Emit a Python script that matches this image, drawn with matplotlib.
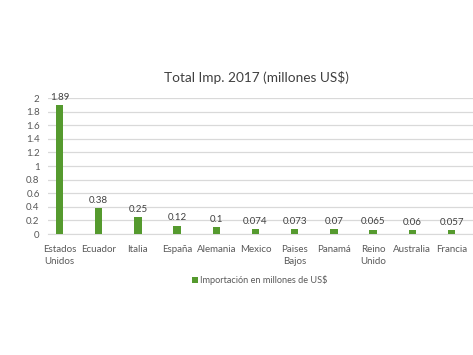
import matplotlib.pyplot as plt
import numpy as np

plt.rcParams['font.family'] = ['Lato', 'DejaVu Sans']

paises = ['Estados\nUnidos', 'Ecuador', 'Italia', 'España', 'Alemania', 'Mexico',
          'Paises\nBajos', 'Panamá', 'Reino\nUnido', 'Australia', 'Francia']
importacion = [1.89, 0.38, 0.25, 0.12, 0.1, 0.074, 0.073, 0.07, 0.065, 0.06, 0.057]
etiquetas = ['1.89', '0.38', '0.25', '0.12', '0.1', '0.074', '0.073', '0.07', '0.065', '0.06', '0.057']
y_ticks = [0, 0.2, 0.4, 0.6, 0.8, 1, 1.2, 1.4, 1.6, 1.8, 2]
y_labels = ['0', '0.2', '0.4', '0.6', '0.8', '1', '1.2', '1.4', '1.6', '1.8', '2']

W, H = 473, 355
fig = plt.figure(figsize=(W / 100, H / 100), dpi=100)
# axes in pixel coords: left 48, right 473, top 98, bottom 234
ax = fig.add_axes([48 / W, 1 - 234 / H, (473 - 48) / W, (234 - 98) / H])

verde = '#559A2E'
gris = '#595959'
x = np.arange(len(paises))
bars = ax.bar(x, importacion, width=0.19, color=verde, zorder=3,
              label='Importación en millones de US$')

for xi, v, t in zip(x, importacion, etiquetas):
    ax.text(xi, v + 0.05, t, ha='center', va='bottom', fontsize=7, color='#404040')

px = 39.2
ax.set_xlim(-(59.5 - 48) / px, (473 - 59.5) / px)
ax.set_ylim(0, 2)
ax.set_yticks(y_ticks)
ax.set_yticklabels(y_labels, fontsize=7, color=gris)
ax.set_xticks(x)
ax.set_xticklabels(paises, fontsize=7, color=gris, linespacing=1.4)
ax.tick_params(length=0, pad=6)
ax.tick_params(axis='x', pad=8)
ax.grid(axis='y', color='#D9D9D9', linewidth=0.9, zorder=0)
for s in ['top', 'right', 'left']:
    ax.spines[s].set_visible(False)
ax.spines['bottom'].set_color('#D9D9D9')

fig.text(256 / W, 1 - 77 / H, 'Total Imp. 2017 (millones US$)', ha='center', va='center',
         fontsize=9.8, color='#404040')

fig.legend(handles=[bars], loc='center', bbox_to_anchor=(260 / W, 1 - 280 / H),
           frameon=False, fontsize=6.6, handlelength=0.6, handleheight=0.6,
           handletextpad=0.3, labelcolor=gris)

fig.savefig('out.png', dpi=100)
